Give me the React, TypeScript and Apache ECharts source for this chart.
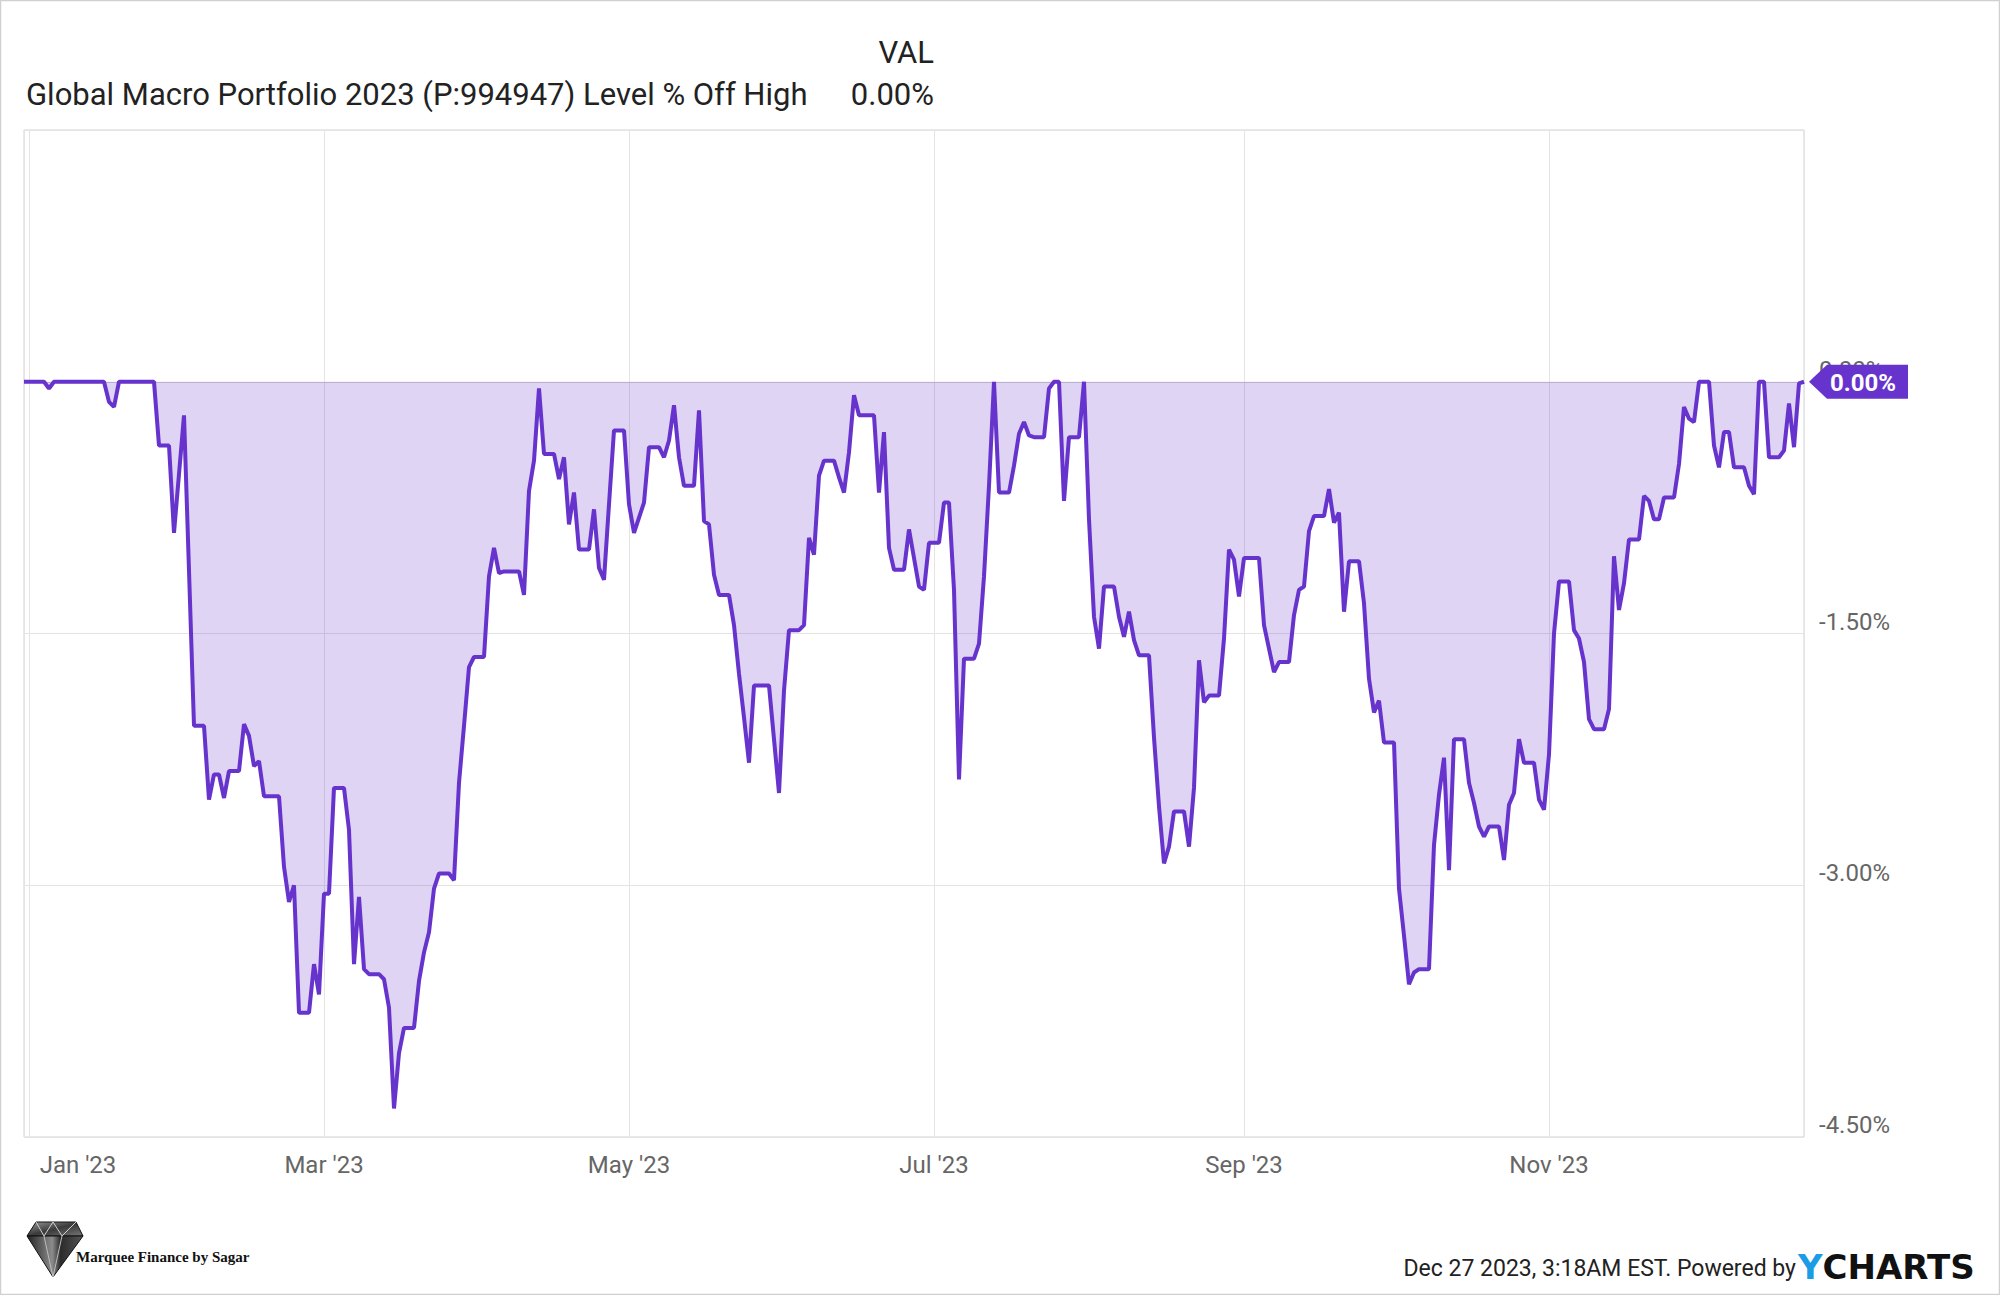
import React, { useEffect, useRef } from "react";
import * as echarts from "echarts";

// Days after 2023-01-01 (calendar days; weekends repeat the last close)
const DAY_OFFSETS = [
  -1, 3, 4, 5, 15, 16, 17, 18, 25, 26, 28, 29, 31, 33, 35, 36, 37, 38, 39, 40,
  42, 43, 44, 45, 46, 47, 50, 51, 52, 53, 54, 56, 57, 58, 59, 60, 61, 63, 64, 65,
  66, 67, 68, 70, 71, 72, 73, 74, 75, 77, 78, 79, 80, 81, 82, 84, 85, 86, 87, 88,
  89, 91, 92, 93, 94, 95, 98, 99, 100, 101, 102, 103, 105, 106, 107, 108, 109, 110, 112, 113,
  114, 115, 116, 117, 119, 120, 121, 123, 124, 126, 127, 128, 129, 130, 131, 133, 134, 135, 136, 137,
  138, 140, 141, 142, 143, 144, 145, 148, 149, 150, 151, 152, 154, 155, 156, 157, 158, 159, 161, 162,
  163, 164, 165, 166, 169, 170, 171, 172, 173, 175, 176, 177, 178, 179, 180, 182, 183, 184, 185, 186,
  187, 189, 190, 191, 192, 193, 194, 196, 197, 198, 199, 200, 201, 203, 204, 205, 206, 207, 208, 210,
  211, 212, 213, 214, 215, 217, 218, 219, 220, 221, 222, 224, 225, 226, 227, 228, 229, 231, 232, 233,
  234, 235, 236, 238, 239, 240, 241, 242, 243, 246, 247, 248, 249, 250, 252, 253, 254, 255, 256, 257,
  259, 260, 261, 262, 263, 264, 266, 267, 268, 269, 270, 271, 273, 274, 275, 276, 277, 278, 280, 281,
  282, 283, 284, 285, 287, 288, 289, 290, 291, 292, 294, 295, 296, 297, 298, 299, 301, 302, 303, 304,
  305, 306, 308, 309, 310, 311, 312, 313, 315, 316, 317, 318, 319, 320, 322, 323, 324, 325, 326, 327,
  329, 330, 331, 332, 333, 334, 336, 337, 338, 339, 340, 341, 343, 344, 345, 346, 347, 348, 350, 351,
  352, 353, 354, 355,
];

// Level % off high
const OFF_HIGH = [
  0, 0, -0.04, 0, 0, -0.12, -0.15, 0, 0, -0.38, -0.38, -0.9, -0.2, -2.05, -2.05, -2.49, -2.34, -2.34, -2.48, -2.32,
  -2.32, -2.04, -2.11, -2.29, -2.26, -2.47, -2.47, -2.89, -3.1, -3.0, -3.76, -3.76, -3.47, -3.65, -3.05, -3.05, -2.42, -2.42, -2.67, -3.47,
  -3.07, -3.5, -3.53, -3.53, -3.56, -3.73, -4.33, -4.0, -3.85, -3.85, -3.57, -3.4, -3.28, -3.02, -2.93, -2.93, -2.97, -2.39, -2.05, -1.7,
  -1.64, -1.64, -1.16, -0.99, -1.14, -1.13, -1.13, -1.27, -0.65, -0.47, -0.04, -0.43, -0.43, -0.58, -0.45, -0.85, -0.66, -1.0, -1.0, -0.76,
  -1.11, -1.18, -0.73, -0.29, -0.29, -0.73, -0.9, -0.72, -0.39, -0.39, -0.45, -0.35, -0.14, -0.45, -0.62, -0.62, -0.17, -0.83, -0.85, -1.15,
  -1.27, -1.27, -1.45, -1.74, -2.0, -2.27, -1.81, -1.81, -2.13, -2.45, -1.84, -1.48, -1.48, -1.45, -0.93, -1.03, -0.56, -0.47, -0.47, -0.57,
  -0.66, -0.42, -0.08, -0.2, -0.2, -0.66, -0.3, -0.99, -1.12, -1.12, -0.88, -1.05, -1.22, -1.24, -0.96, -0.96, -0.72, -0.72, -1.24, -2.37,
  -1.65, -1.65, -1.56, -1.16, -0.62, 0, -0.66, -0.66, -0.5, -0.31, -0.24, -0.32, -0.33, -0.33, -0.04, 0, 0, -0.71, -0.33, -0.33,
  0, -0.82, -1.4, -1.59, -1.22, -1.22, -1.4, -1.52, -1.37, -1.54, -1.63, -1.63, -2.12, -2.53, -2.87, -2.77, -2.56, -2.56, -2.77, -2.42,
  -1.66, -1.91, -1.87, -1.87, -1.53, -1.0, -1.06, -1.28, -1.05, -1.05, -1.45, -1.59, -1.73, -1.67, -1.67, -1.39, -1.24, -1.22, -0.89, -0.8,
  -0.8, -0.64, -0.84, -0.78, -1.37, -1.07, -1.07, -1.32, -1.77, -1.97, -1.9, -2.15, -2.15, -3.02, -3.3, -3.59, -3.52, -3.5, -3.5, -2.76,
  -2.46, -2.24, -2.91, -2.13, -2.13, -2.39, -2.51, -2.65, -2.71, -2.65, -2.65, -2.85, -2.52, -2.45, -2.13, -2.27, -2.27, -2.49, -2.55, -2.22,
  -1.5, -1.19, -1.19, -1.48, -1.53, -1.67, -2.01, -2.07, -2.07, -1.95, -1.04, -1.36, -1.2, -0.94, -0.94, -0.68, -0.71, -0.82, -0.82, -0.69,
  -0.69, -0.49, -0.15, -0.22, -0.24, 0, 0, -0.38, -0.51, -0.3, -0.3, -0.51, -0.51, -0.62, -0.67, 0, 0, -0.45, -0.45, -0.41,
  -0.13, -0.39, -0.01, 0,
];

const MONTH_NAMES = ["Jan", "Feb", "Mar", "Apr", "May", "Jun", "Jul", "Aug", "Sep", "Oct", "Nov", "Dec"];
const Y_MIN = -4.5;
const Y_MAX = 1.5;
const Y_STEP = 1.5;

const TITLE = "Global Macro Portfolio 2023 (P:994947) Level % Off High";
const VAL_HEADER = "VAL";
const FOOTER = "Dec 27 2023, 3:18AM EST. Powered by";
const BRAND = "Marquee Finance by Sagar";

const PURPLE = "#6633cc";

export default function App() {
  const ref = useRef<HTMLDivElement>(null);

  useEffect(() => {
    document.body.style.margin = "0";
    const chart = echarts.init(ref.current as HTMLDivElement, null, { renderer: "svg" });
    const data = DAY_OFFSETS.map((d, i) => [new Date(2023, 0, 1 + d).getTime(), OFF_HIGH[i]]);
    const lastVal = OFF_HIGH[OFF_HIGH.length - 1];

    chart.setOption({
      animation: false,
      backgroundColor: "#ffffff",
      grid: {
        left: 24,
        right: 196,
        top: 130,
        bottom: 158,
        show: true,
        borderColor: "#d2d2d2",
        borderWidth: 1,
      },
      xAxis: {
        type: "time",
        min: data[0][0],
        max: data[data.length - 1][0],
        splitNumber: 5,
        axisLine: { show: true, lineStyle: { color: "#d2d2d2" } },
        axisTick: { show: false },
        splitLine: { show: true, lineStyle: { color: "#e4e4e4", width: 1 } },
        axisLabel: {
          color: "#666666",
          fontSize: 24,
          fontFamily: "Roboto",
          margin: 16,
          hideOverlap: false,
          formatter: (value: number) => {
            const dt = new Date(value);
            const lbl = `${MONTH_NAMES[dt.getMonth()]} '${String(dt.getFullYear()).slice(2)}`;
            return dt.getMonth() === 0 ? `{first|${lbl}}` : lbl;
          },
          rich: {
            first: { padding: [0, 0, 0, 98], fontSize: 24, color: "#666666", fontFamily: "Roboto" },
          },
        },
      },
      yAxis: {
        type: "value",
        position: "right",
        min: Y_MIN,
        max: Y_MAX,
        interval: Y_STEP,
        axisLine: { show: false },
        axisTick: { show: false },
        splitLine: { show: true, lineStyle: { color: "#e4e4e4", width: 1 } },
        axisLabel: {
          color: "#666666",
          fontSize: 24,
          fontFamily: "Roboto",
          margin: 15,
          verticalAlign: "bottom",
          formatter: (v: number) => (v > 0 ? "" : `${v.toFixed(2)}%`),
        },
      },
      series: [
        {
          type: "line",
          data,
          symbol: "none",
          lineStyle: { color: PURPLE, width: 4 },
          itemStyle: { color: PURPLE },
          areaStyle: { color: "rgba(102,51,204,0.3)", origin: 0 },
          z: 3,
        },
      ],
    });

    const [px, py] = chart.convertToPixel({ gridIndex: 0 }, data[data.length - 1]) as number[];

    chart.setOption({
      graphic: {
        elements: [
          {
            type: "rect",
            shape: { x: 0.5, y: 0.5, width: 1999, height: 1294 },
            style: { fill: "none", stroke: "#d0d0d0", lineWidth: 1.5 },
            silent: true,
          },
          {
            type: "text",
            x: 934,
            y: 52,
            style: { text: VAL_HEADER, fontSize: 31, fontFamily: "Roboto", fill: "#222222", align: "right", verticalAlign: "middle" },
          },
          {
            type: "text",
            x: 26,
            y: 94,
            style: { text: TITLE, fontSize: 31, fontFamily: "Roboto", fill: "#222222", align: "left", verticalAlign: "middle" },
          },
          {
            type: "text",
            x: 934,
            y: 94,
            style: {
              text: `${lastVal.toFixed(2)}%`,
              fontSize: 31,
              fontFamily: "Roboto",
              fill: "#222222",
              align: "right",
              verticalAlign: "middle",
            },
          },
          {
            type: "polygon",
            shape: {
              points: [
                [px + 5, py],
                [px + 23, py - 17],
                [px + 104, py - 17],
                [px + 104, py + 17],
                [px + 23, py + 17],
              ],
            },
            style: { fill: PURPLE },
            z: 100,
          },
          {
            type: "text",
            x: px + 59,
            y: py + 1,
            z: 101,
            style: {
              text: `${lastVal.toFixed(2)}%`,
              fontSize: 24,
              fontWeight: "bold",
              fontFamily: "Roboto",
              fill: "#ffffff",
              align: "center",
              verticalAlign: "middle",
            },
          },
          // footer
          {
            type: "text",
            x: 1796,
            y: 1268,
            style: { text: FOOTER, fontSize: 23, fontFamily: "Roboto", fill: "#222222", align: "right", verticalAlign: "middle" },
          },
          {
            type: "text",
            x: 1798,
            y: 1267,
            style: {
              text: "{y|Y}{c|CHARTS}",
              align: "left",
              verticalAlign: "middle",
              rich: {
                y: { fontSize: 34, fontWeight: 900, fontFamily: "DejaVu Sans", fill: "#1b9ce5" },
                c: { fontSize: 34, fontWeight: 900, fontFamily: "DejaVu Sans", fill: "#111111" },
              },
            },
          },
          // diamond logo
          {
            type: "polygon",
            shape: { points: [[36, 1222], [76, 1222], [83, 1236], [27, 1236]] },
            style: {
              fill: new echarts.graphic.LinearGradient(0, 0, 1, 1, [
                { offset: 0, color: "#9a9a9a" },
                { offset: 0.5, color: "#3a3a3a" },
                { offset: 1, color: "#777777" },
              ]),
              stroke: "#111111",
              lineWidth: 1,
            },
          },
          {
            type: "polygon",
            shape: { points: [[27, 1236], [83, 1236], [53, 1277]] },
            style: {
              fill: new echarts.graphic.LinearGradient(0, 0, 1, 0, [
                { offset: 0, color: "#222222" },
                { offset: 0.45, color: "#8c8c8c" },
                { offset: 0.6, color: "#2b2b2b" },
                { offset: 1, color: "#555555" },
              ]),
              stroke: "#111111",
              lineWidth: 1,
            },
          },
          {
            type: "polyline",
            shape: { points: [[36, 1222], [44, 1236], [53, 1222], [62, 1236], [76, 1222]] },
            style: { stroke: "#cfcfcf", lineWidth: 1, fill: "none" },
          },
          {
            type: "polyline",
            shape: { points: [[44, 1236], [53, 1277], [62, 1236]] },
            style: { stroke: "#bdbdbd", lineWidth: 1, fill: "none" },
          },
          {
            type: "text",
            x: 76,
            y: 1257,
            style: {
              text: BRAND,
              fontSize: 15,
              fontWeight: "bold",
              fontFamily: "Liberation Serif",
              fill: "#111111",
              align: "left",
              verticalAlign: "middle",
            },
          },
        ],
      },
    });

    return () => chart.dispose();
  }, []);

  return <div ref={ref} style={{ width: 2000, height: 1295 }} />;
}
